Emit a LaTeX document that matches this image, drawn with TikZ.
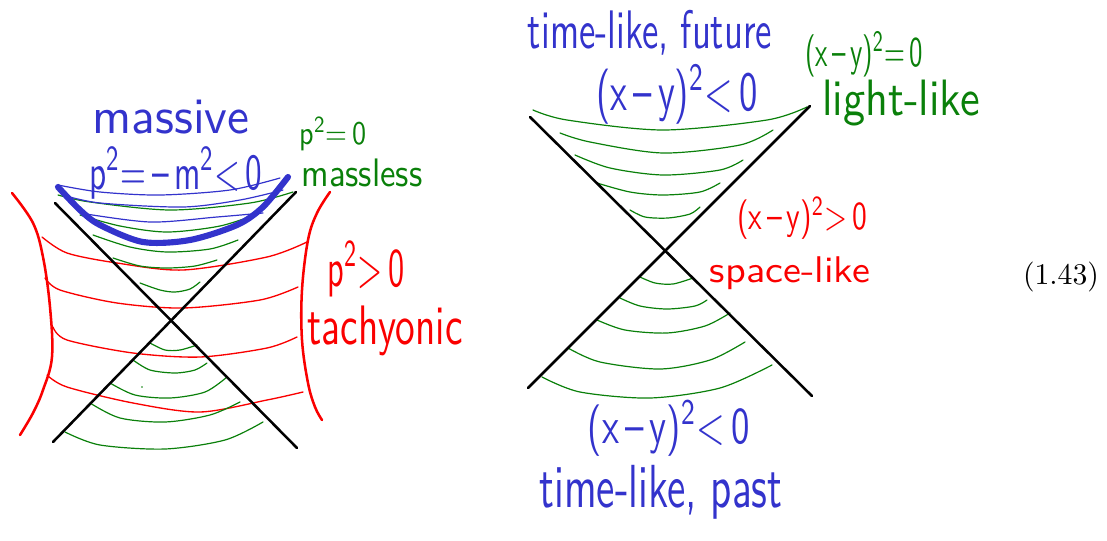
\documentclass[tikz,border=0pt]{standalone}
\usepackage{graphicx}
\newlength\pxu
\setlength\pxu{0.75pt}
\newcommand\hw[3]{\resizebox*{#1\pxu}{#2\pxu}{\sffamily #3}}
\definecolor{hgreen}{RGB}{10,128,10}
\definecolor{hblue}{RGB}{51,51,204}
\definecolor{hred}{RGB}{250,0,0}
\tikzset{
  blk/.style={draw=black, line width=1.9pt, line cap=round},
  grn/.style={draw=hgreen, line width=0.9pt, line cap=round, line join=round},
  bluethin/.style={draw=hblue, line width=0.9pt, line cap=round, line join=round},
  bluethick/.style={draw=hblue, line width=4.6pt, line cap=round, line join=round},
  redthin/.style={draw=hred, line width=1pt, line cap=round, line join=round},
  redthick/.style={draw=hred, line width=1.9pt, line cap=round, line join=round},
  lbl/.style={inner sep=0pt, outer sep=0pt, anchor=center},
}
\begin{document}
\begin{tikzpicture}[x=0.75pt, y=-0.75pt]
\useasboundingbox (0,0) rectangle (1107,540);

% ---------------- left diagram ----------------
% red boundaries
\draw[redthick] plot[smooth, tension=0.6] coordinates {(12,193) (33,223) (43,257) (50,307) (52,357) (43,390) (33,413) (20,435)};
\draw[redthick] plot[smooth, tension=0.6] coordinates {(330,192) (317,213) (308,240) (302,290) (302,340) (308,383) (315,407) (322,420)};
% red horizontal curves
\draw[redthin] plot[smooth] coordinates {(42,237) (67,253) (117,263) (183,270) (267,257) (307,242)};
\draw[redthin] plot[smooth] coordinates {(45,278) (60,290) (117,303) (183,308) (260,300) (298,287)};
\draw[redthin] plot[smooth] coordinates {(53,327) (67,340) (133,353) (200,357) (267,348) (297,337)};
\draw[redthin] plot[smooth] coordinates {(47,375) (67,387) (133,403) (200,412) (267,400) (303,392)};

% green curves upper cone
\draw[grn] plot[smooth] coordinates {(58,195) (90,202) (170,210) (250,203) (293,192)};
\draw[grn] plot[smooth] coordinates {(80,215) (120,226) (167,232) (220,226) (260,213)};
\draw[grn] plot[smooth] coordinates {(93,235) (130,247) (167,252) (210,249) (238,240)};
\draw[grn] plot[smooth] coordinates {(113,258) (140,266) (167,268) (195,266) (217,260)};
\draw[grn] plot[smooth] coordinates {(140,283) (160,290) (175,292) (190,289) (200,282)};
% green curves lower cone
\draw[grn] plot[smooth] coordinates {(150,343) (165,350) (180,350) (197,345)};
\draw[grn] plot[smooth] coordinates {(133,360) (150,370) (175,373) (195,370) (207,363)};
\draw[grn] plot[smooth] coordinates {(110,383) (135,395) (170,398) (205,392) (227,377)};
\draw[grn] plot[smooth] coordinates {(90,403) (120,418) (165,422) (210,415) (240,402)};
\draw[grn] plot[smooth] coordinates {(65,432) (100,445) (165,449) (225,440) (263,422)};
\fill[hgreen] (142,387) circle[radius=0.8];

% blue thin curves
\draw[bluethin] plot[smooth] coordinates {(58,185) (100,192) (160,195) (230,190) (280,178)};
\draw[bluethin] plot[smooth] coordinates {(63,195) (100,203) (183,207) (240,200) (283,190)};
\draw[bluethin] plot[smooth] coordinates {(80,213) (150,222) (217,217) (263,213)};
% blue thick curve
\draw[bluethick] plot[smooth, tension=0.5] coordinates {(58,187) (80,210) (100,225) (143,242) (190,240) (237,225) (263,207) (288,177)};

% light cone lines
\draw[blk] (55,203) -- (297,448);
\draw[blk] (53,442) -- (296,192);

% labels left
\node[lbl, text=hblue] (massive) at (171,117) {\hw{157}{34}{massive}};
\node[lbl, text=hblue] (massivecond) at (176,173) {\hw{173}{52}{p\textsuperscript{2}=\,–\,m\textsuperscript{2}<\,0}};
\node[lbl, text=hgreen] (masslesscond) at (333,134) {\hw{67}{34}{p\textsuperscript{2}=\,0}};
\node[lbl, text=hgreen] (massless) at (362,173) {\hw{121}{28}{massless}};
\node[lbl, text=hred] (tachcond) at (366,269) {\hw{77}{56}{p\textsuperscript{2}>\,0}};
\node[lbl, text=hred] (tachyonic) at (385,331) {\hw{155}{50}{tachyonic}};

% ---------------- right diagram ----------------
% green curves upper cone
\draw[grn] plot[smooth] coordinates {(533,110) (567,120) (663,130) (767,120) (807,107)};
\draw[grn] plot[smooth] coordinates {(560,133) (590,142) (663,153) (740,145) (773,130)};
\draw[grn] plot[smooth] coordinates {(575,155) (610,168) (663,175) (720,170) (743,160)};
\draw[grn] plot[smooth] coordinates {(597,183) (630,192) (663,195) (700,192) (720,183)};
\draw[grn] plot[smooth] coordinates {(630,210) (645,217) (668,218) (690,214) (700,207)};
% green curves lower cone
\draw[grn] plot[smooth] coordinates {(640,277) (655,283) (673,284) (693,278)};
\draw[grn] plot[smooth] coordinates {(620,298) (640,306) (667,309) (695,306) (707,300)};
\draw[grn] plot[smooth] coordinates {(597,320) (625,330) (667,333) (705,326) (730,313)};
\draw[grn] plot[smooth] coordinates {(568,348) (600,362) (660,369) (710,360) (745,342)};
\draw[grn] plot[smooth] coordinates {(542,377) (580,392) (650,398) (720,388) (772,365)};

% light cone lines
\draw[blk] (530,117) -- (812,396);
\draw[blk] (528,388) -- (810,106);

% labels right
\node[lbl, text=hblue] (future) at (650,33) {\hw{244}{45}{time-like, future}};
\node[lbl, text=hblue] (futurecond) at (677,94) {\hw{161}{60}{(x\,–\,y)\textsuperscript{2}<\,0}};
\node[lbl, text=hgreen] (lightcond) at (864,54) {\hw{118}{46}{(x\,–\,y)\textsuperscript{2}=\,0}};
\node[lbl, text=hgreen] (light) at (901,103) {\hw{158}{46}{light-like}};
\node[lbl, text=hred] (spacecond) at (802,218) {\hw{130}{43}{(x\,–\,y)\textsuperscript{2}>\,0}};
\node[lbl, text=hred] (space) at (790,273) {\hw{160}{33}{space-like}};
\node[lbl, text=hblue] (pastcond) at (669,428) {\hw{162}{56}{(x\,–\,y)\textsuperscript{2}<\,0}};
\node[lbl, text=hblue] (past) at (661,492) {\hw{243}{54}{time-like, past}};

% equation number
\node[lbl] (eqno) at (1061,277) {\resizebox*{76\pxu}{30\pxu}{(1.43)}};
\end{tikzpicture}
\end{document}
